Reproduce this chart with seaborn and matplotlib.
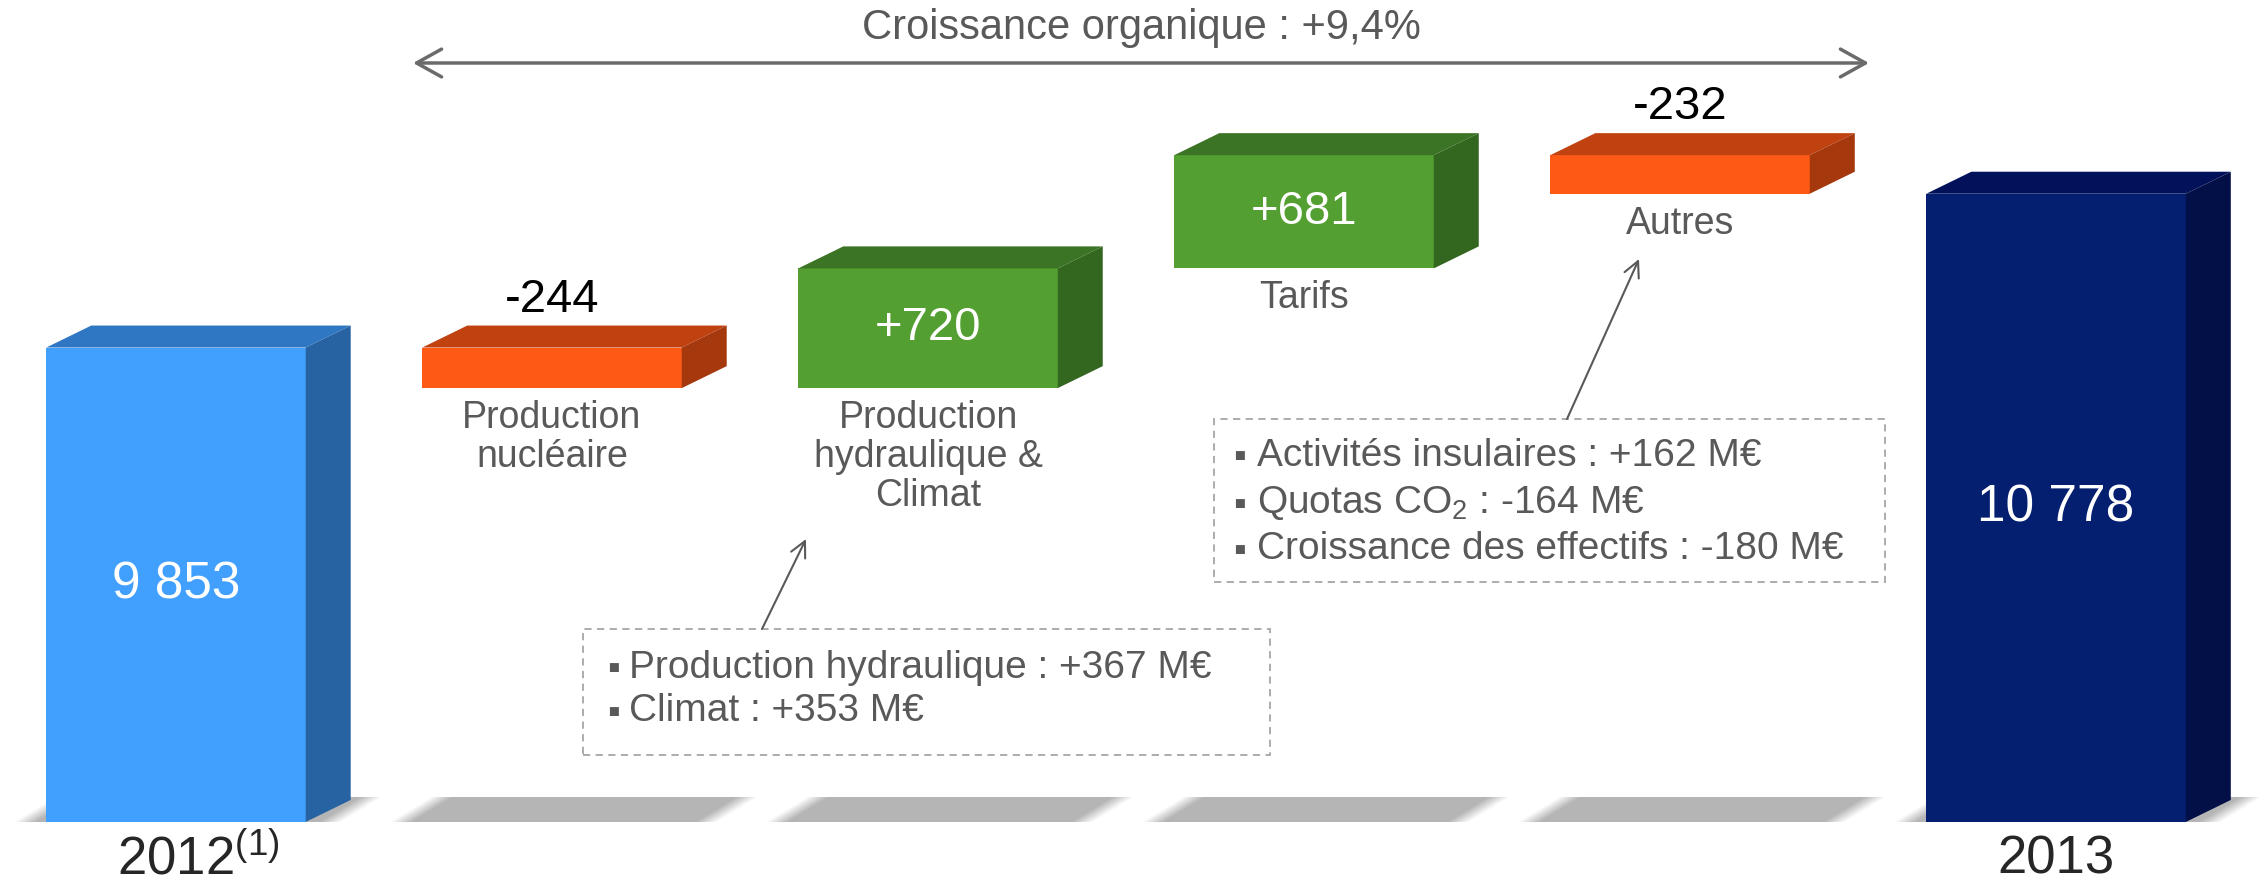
import numpy as np
import pandas as pd
import matplotlib
matplotlib.use("Agg")
import matplotlib.pyplot as plt
from matplotlib.patches import Polygon, Rectangle
import seaborn as sns

# Chiffre d'affaires (M€) : passage de 2012 a 2013
categories = ["2012", "Production\nnucléaire", "Production\nhydraulique &\nClimat",
              "Tarifs", "Autres", "2013"]
start_value = 9853
steps = [-244, 720, 681, -232]
end_value = 10778
value_labels = ["9 853", "-244", "+720", "+681", "-232", "10 778"]
year_labels = ["2012$^{(1)}$", "2013"]
axis_floor = 7000  # axe tronque

front_colors = ["#419ffe", "#fe5a16", "#539f31", "#539f31", "#fe5a16", "#041e70"]
top_colors = ["#2f77c3", "#c04210", "#3b7424", "#3b7424", "#c04210", "#02125a"]
side_colors = ["#2763a3", "#a5380d", "#33661f", "#33661f", "#a5380d", "#021047"]

growth_label = "Croissance organique : +9,4%"
hydro_details = ["Production hydraulique : +367 M€", "Climat : +353 M€"]
autres_details = ["Activités insulaires : +162 M€", "Quotas CO$_2$ : -164 M€",
                  "Croissance des effectifs : -180 M€"]

sns.set_style("white")
plt.rcParams["font.family"] = ["Liberation Sans", "DejaVu Sans"]
plt.rcParams["mathtext.default"] = "regular"

GREY = "#595959"
W, H = 2258, 886
XMIN, XMAX = -0.468, 5.537
YMIN, YMAX = 6615, 11943

# waterfall levels
levels = np.cumsum([start_value] + steps)
lows = [axis_floor] + [min(levels[i], levels[i + 1]) for i in range(len(steps))] + [axis_floor]
highs = [start_value] + [max(levels[i], levels[i + 1]) for i in range(len(steps))] + [end_value]
df = pd.DataFrame({"categorie": categories, "bas": lows, "haut": highs})
df["hauteur"] = df["haut"] - df["bas"]

fig = plt.figure(figsize=(W / 100, H / 100), dpi=100)
ax = fig.add_axes([0, 0, 1, 1])
sns.barplot(data=df, x="categorie", y="hauteur", order=categories, width=0.69,
            color=front_colors[0], errorbar=None, linewidth=0, zorder=3, ax=ax)
bars = list(ax.patches)

px_x = W / (XMAX - XMIN)
px_y = H / (YMAX - YMIN)
DX = 45 / px_x
DY = 22 / px_y


def frac(px, py):
    return px / W, 1 - py / H


for i, p in enumerate(bars):
    low, high = df["bas"][i], df["haut"][i]
    p.set_y(low)
    p.set_facecolor(front_colors[i])
    x0 = p.get_x()
    x1 = x0 + p.get_width()
    xc = (x0 + x1) / 2

    # floor shadow
    xl = x0 - 32 / px_x
    xr = x1 + 36 / px_x
    slant = 40 / px_x
    sh = 25 / px_y
    xs = np.linspace(xl, xr + slant, 400)
    vs = np.linspace(0, 1, 30)
    X, V = np.meshgrid(xs, vs)
    fade = 22 / px_x
    alpha = np.clip((X - (xl + V * slant)) / fade, 0, 1) * np.clip(((xr + V * slant) - X) / fade, 0, 1)
    img = np.zeros((len(vs), len(xs), 4))
    img[..., :3] = 0.71
    img[..., 3] = alpha
    ax.imshow(img, extent=[xl, xr + slant, axis_floor, axis_floor + sh], origin="lower",
              aspect="auto", interpolation="bilinear", zorder=1)

    # 3d faces
    ax.add_patch(Polygon([(x0, high), (x1, high), (x1 + DX, high + DY), (x0 + DX, high + DY)],
                         closed=True, fc=top_colors[i], ec="none", zorder=3))
    ax.add_patch(Polygon([(x1, low), (x1 + DX, low + DY), (x1 + DX, high + DY), (x1, high)],
                         closed=True, fc=side_colors[i], ec="none", zorder=3))

    # value labels
    if i in (0, len(bars) - 1):
        ax.text(xc, (low + high) / 2, value_labels[i], color="white", fontsize=37,
                ha="center", va="center", zorder=5)
    elif steps[i - 1] > 0:
        ax.text(xc, (low + high) / 2, value_labels[i], color="white", fontsize=34,
                ha="center", va="center", zorder=5)
    else:
        ax.annotate(value_labels[i], (xc, high), xytext=(0, 48), textcoords="offset pixels",
                    color="black", fontsize=34, ha="center", va="center", zorder=5)

    # category labels
    if 0 < i < len(bars) - 1:
        ax.annotate(categories[i], (xc, low), xytext=(0, -12), textcoords="offset pixels",
                    color=GREY, fontsize=27, ha="center", va="top", linespacing=1.1)

ax.annotate(year_labels[0], (bars[0].get_x() + bars[0].get_width() / 2, axis_floor),
            xytext=(22, -38), textcoords="offset pixels", fontsize=38, ha="center", va="center")
ax.annotate(year_labels[1], (bars[-1].get_x() + bars[-1].get_width() / 2, axis_floor),
            xytext=(0, -38), textcoords="offset pixels", fontsize=38, ha="center", va="center")

# organic growth arrow
ax.annotate("", xy=frac(1869, 63), xytext=frac(413, 63), xycoords="axes fraction",
            arrowprops=dict(arrowstyle="<->,head_length=0.9,head_width=0.5", color="#6b6b6b",
                            lw=2.5, mutation_scale=20, shrinkA=0, shrinkB=0))
ax.text(*frac(1141, 28), growth_label, transform=ax.transAxes, fontsize=30, color=GREY,
        ha="center", va="center")

# detail boxes
ax.add_patch(Rectangle(frac(583, 755), (1270 - 583) / W, (755 - 629) / H, transform=ax.transAxes,
                       fill=False, ec="#a6a6a6", lw=1.3, ls=(0, (4, 3))))
for line, py in zip(hydro_details, [668, 711]):
    ax.text(*frac(613, py + 2), "▪", transform=ax.transAxes, fontsize=26, color=GREY, ha="center", va="center")
    ax.text(*frac(629, py), line, transform=ax.transAxes, fontsize=28, color=GREY, ha="left", va="center")
ax.annotate("", xy=frac(806, 539), xytext=frac(762, 629), xycoords="axes fraction",
            arrowprops=dict(arrowstyle="->", color=GREY, lw=1.5, mutation_scale=28, shrinkA=0, shrinkB=0))

ax.add_patch(Rectangle(frac(1214, 582), (1885 - 1214) / W, (582 - 419) / H, transform=ax.transAxes,
                       fill=False, ec="#a6a6a6", lw=1.3, ls=(0, (4, 3))))
for line, py in zip(autres_details, [456, 503, 549]):
    ax.text(*frac(1239, py + 2), "▪", transform=ax.transAxes, fontsize=26, color=GREY, ha="center", va="center")
    ax.text(*frac(1257, py), line, transform=ax.transAxes, fontsize=28, color=GREY, ha="left", va="center")
ax.annotate("", xy=frac(1639, 259), xytext=frac(1567, 419), xycoords="axes fraction",
            arrowprops=dict(arrowstyle="->", color=GREY, lw=1.5, mutation_scale=28, shrinkA=0, shrinkB=0))

ax.set_xlim(XMIN, XMAX)
ax.set_ylim(YMIN, YMAX)
ax.axis("off")

fig.savefig("out.png", dpi=100)
